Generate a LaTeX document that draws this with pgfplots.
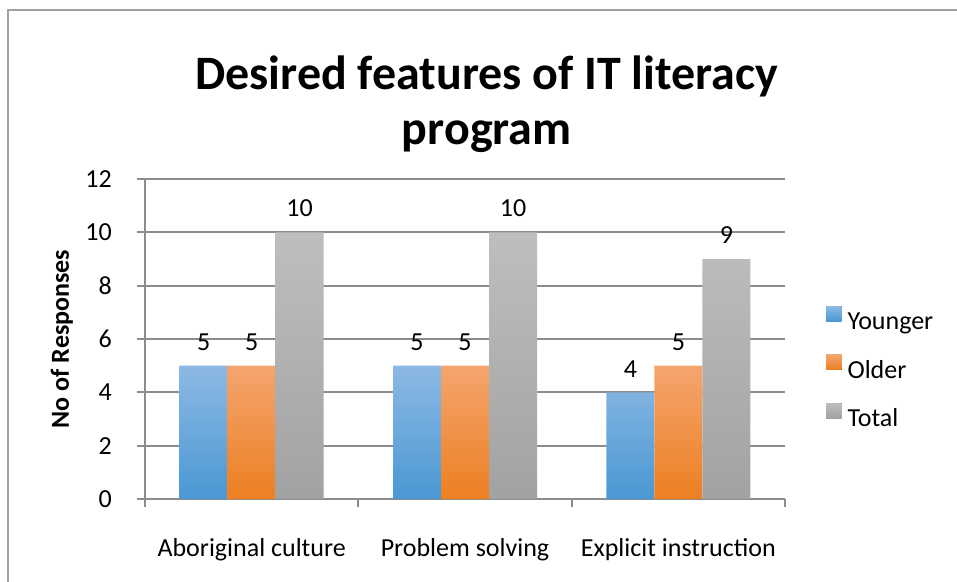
\documentclass[border=0pt]{standalone}
\usepackage{pgfplots}
\pgfplotsset{compat=1.18}
\usepackage{fontspec}
\setmainfont{Carlito}

\definecolor{gridgray}{RGB}{140,140,140}
\definecolor{framegray}{RGB}{160,160,160}
\definecolor{blueTop}{RGB}{141,185,228}
\definecolor{blueBot}{RGB}{74,152,212}
\definecolor{orangeTop}{RGB}{244,165,110}
\definecolor{orangeBot}{RGB}{236,127,34}
\definecolor{grayTop}{RGB}{190,190,190}
\definecolor{grayBot}{RGB}{162,162,162}

\begin{document}
\begin{tikzpicture}[x=1pt,y=1pt]
\useasboundingbox (0,0) rectangle (957,581);
\begin{scope}
  \clip (0,0) rectangle (957,581);
  \draw[framegray, line width=2.5pt] (8,-5) -- (8,571) -- (965,571);
\end{scope}
\begin{axis}[
    at={(145pt,82pt)}, anchor=south west,
    scale only axis,
    width=640pt, height=320pt,
    xmin=-0.5, xmax=2.5,
    ymin=0, ymax=12,
    ytick={0,2,...,12},
    xtick={-0.5,0.5,1.5,2.5},
    x tick label as interval,
    xticklabels={Aboriginal culture,Problem solving,Explicit instruction},
    axis x line=bottom, axis y line=left,
    axis line style={-, gridgray, line width=2pt},
    tick align=outside,
    major tick length=8pt,
    tick style={gridgray, line width=2pt},
    ymajorgrids,
    major grid style={gridgray, line width=2pt},
    /pgf/number format/assume math mode=true,
    tick label style={font=\fontsize{26}{31}\selectfont},
    yticklabel style={inner sep=0pt, anchor=east, xshift=-25pt},
    xticklabel style={inner sep=0pt, anchor=north, yshift=-31pt},
    ylabel={No of Responses},
    ylabel style={font=\fontsize{26}{31}\selectfont\bfseries,
        at={(axis description cs:-0.13,0.5)}, anchor=center},
    title={Desired features of IT literacy\\program},
    title style={font=\fontsize{48}{55}\selectfont\bfseries, align=center,
        inner sep=0pt, at={(axis description cs:0.534,1.366)}, anchor=north},
    ybar=0pt, bar width=48pt,
    nodes near coords,
    every node near coord/.append style={font=\fontsize{26}{31}\selectfont,
        black, anchor=south, inner sep=0pt, yshift=15pt},
    legend cell align=left,
    legend style={draw=none, fill=none, inner sep=0pt, outer sep=0pt,
        at={(axis description cs:1.0641,0.603)}, anchor=north west,
        font=\fontsize{26}{31}\selectfont,
        nodes={inner sep=0pt, text height=19pt, text depth=6pt},
        column sep=6pt, row sep=19pt},
    legend image code/.code={\fill[#1] (0pt,2pt) rectangle (15.5pt,17pt);},
]
\addplot[draw=none, top color=blueTop, bottom color=blueBot] coordinates {(0,5) (1,5) (2,4)};
\addplot[draw=none, top color=orangeTop, bottom color=orangeBot] coordinates {(0,5) (1,5) (2,5)};
\addplot[draw=none, top color=grayTop, bottom color=grayBot] coordinates {(0,10) (1,10) (2,9)};
\legend{Younger,Older,Total}
\end{axis}
\end{tikzpicture}
\end{document}
